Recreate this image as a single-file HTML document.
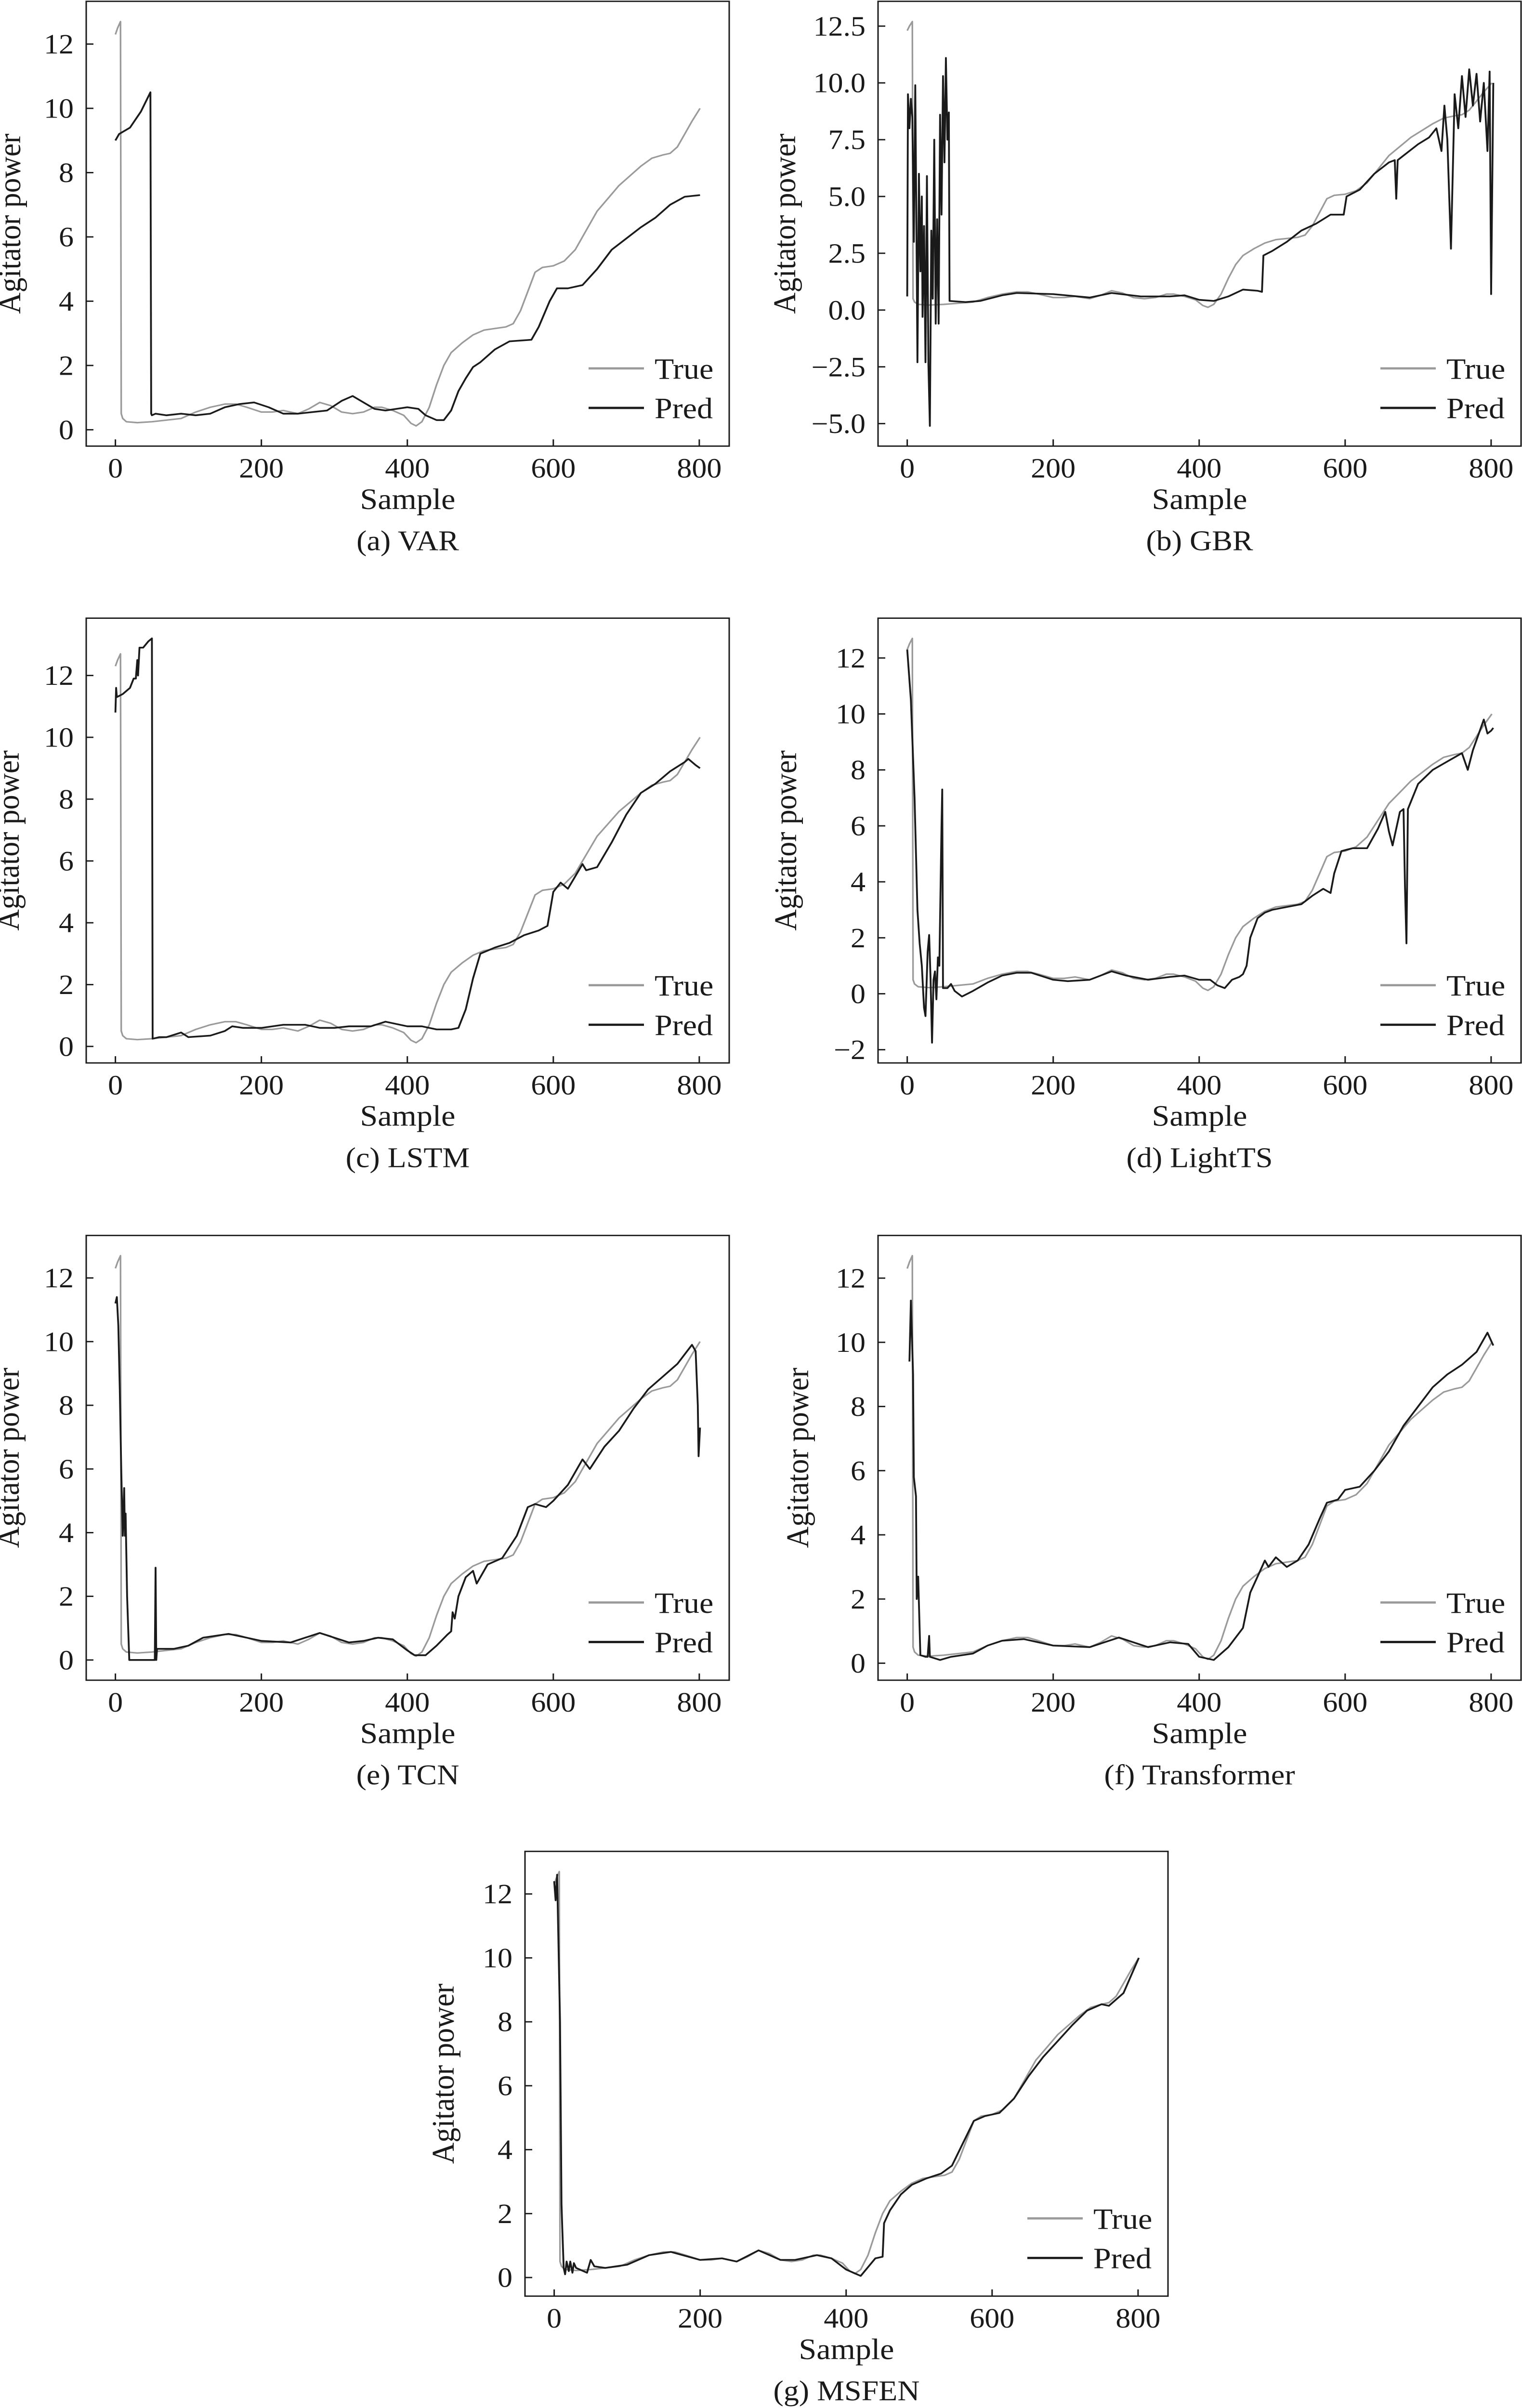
<!DOCTYPE html>
<html><head><meta charset="utf-8"><title>Agitator power predictions</title>
<style>
html,body{margin:0;padding:0;background:#fff;width:100vw;height:100vh;overflow:hidden;}
svg{display:block;position:absolute;left:0;top:0;width:100%;height:100%;font-family:"Liberation Serif","DejaVu Serif",serif;}
</style></head>
<body>
<svg id="fig" viewBox="0 0 3160 5360" preserveAspectRatio="none" xmlns="http://www.w3.org/2000/svg">
<rect x="0" y="0" width="3160" height="5360" fill="#fff"/>
</svg>
<script>
// shared true series
const trueX = [0,3,7,8,10,15,30,50,70,90,110,130,150,165,180,200,215,230,250,265,280,295,310,325,340,355,365,380,395,405,412,420,430,440,450,460,475,490,505,520,535,545,555,565,575,585,600,615,630,645,660,675,690,705,720,735,750,760,770,780,790,801];
const trueY = [12.3,12.5,12.7,0.5,0.35,0.25,0.22,0.25,0.3,0.35,0.55,0.7,0.8,0.8,0.7,0.55,0.55,0.6,0.5,0.65,0.85,0.75,0.55,0.5,0.55,0.7,0.7,0.6,0.45,0.2,0.12,0.25,0.7,1.4,2.0,2.4,2.7,2.95,3.1,3.15,3.2,3.3,3.7,4.3,4.9,5.05,5.1,5.25,5.6,6.2,6.8,7.2,7.6,7.9,8.2,8.45,8.55,8.6,8.8,9.2,9.6,10.0];

// VAR
const varX = [0,5,20,35,48,49,50,55,70,90,110,130,150,170,190,210,230,250,270,290,310,325,340,355,370,385,400,415,425,440,450,460,470,480,490,500,520,540,570,580,595,605,620,640,660,680,700,720,740,760,780,801];
const varY = [9.0,9.2,9.4,9.9,10.5,0.5,0.45,0.5,0.45,0.5,0.45,0.5,0.7,0.8,0.85,0.7,0.5,0.5,0.55,0.6,0.9,1.05,0.85,0.65,0.6,0.65,0.7,0.65,0.45,0.3,0.3,0.6,1.2,1.6,1.95,2.1,2.5,2.75,2.8,3.2,4.0,4.4,4.4,4.5,5.0,5.6,5.95,6.3,6.6,7.0,7.25,7.3];

// GBR
const gbrX = [0,1,3,5,7,9,11,13,14,16,18,20,21,23,25,27,29,31,33,35,37,39,41,43,45,47,49,51,53,55,57,58,80,100,130,150,200,250,280,320,360,380,400,420,440,460,480,486,488,500,520,540,560,580,598,602,620,640,660,668,670,672,680,700,715,725,732,736,740,745,750,755,760,765,770,775,780,785,790,795,798,800,803];
const gbrY = [0.6,9.5,8,9.3,8.5,3,9.9,2,-2.3,6,1.7,5,-0.3,3.7,-2.3,5.9,-2.4,-5.1,3.5,0.5,7.5,-0.6,4,-0.6,8.6,4.2,10.3,6.5,11.1,7.5,8.7,0.4,0.35,0.4,0.65,0.75,0.7,0.55,0.75,0.6,0.6,0.65,0.45,0.4,0.6,0.9,0.85,0.8,2.4,2.6,3.0,3.5,3.8,4.2,4.2,5.0,5.3,6.0,6.5,6.6,4.9,6.6,6.8,7.3,7.6,8.0,7.0,9.0,7.5,2.7,9.5,8.0,10.3,8.5,10.6,9.0,10.4,8.3,10.0,7.0,10.5,0.7,10.0];

// LSTM
const lstmX = [0,1,2,10,20,25,28,30,31,33,38,45,50,51,60,70,90,100,130,150,160,175,200,230,260,280,300,320,350,370,400,420,440,460,470,480,490,500,520,540,560,580,592,600,610,620,630,640,645,660,680,700,720,740,760,780,785,795,801];
const lstmY = [10.8,11.6,11.3,11.4,11.6,11.9,11.9,12.5,12.0,12.9,12.9,13.1,13.2,0.25,0.3,0.3,0.45,0.3,0.35,0.5,0.65,0.6,0.6,0.7,0.7,0.6,0.6,0.65,0.65,0.8,0.65,0.65,0.55,0.55,0.6,1.2,2.2,3.0,3.2,3.35,3.6,3.75,3.9,5.0,5.3,5.1,5.5,5.9,5.7,5.8,6.6,7.5,8.2,8.5,8.9,9.2,9.3,9.1,9.0];

// LightTS
const ltsX = [0,5,10,14,17,20,23,25,28,30,32,34,36,38,40,42,44,47,48,49,55,60,65,75,90,110,130,150,170,200,220,250,280,300,330,360,380,400,415,425,435,445,455,460,465,470,480,490,500,520,540,555,570,580,585,595,610,630,645,655,660,665,675,680,682,684,686,700,720,740,760,768,775,790,795,800,803];
const ltsY = [12.3,10.5,7.0,3.0,1.8,1.0,-0.5,-0.8,1.5,2.1,0.5,-1.75,0.5,0.8,-0.2,1.3,1.0,6.0,7.3,0.2,0.2,0.35,0.1,-0.1,0.1,0.4,0.65,0.75,0.75,0.5,0.45,0.5,0.8,0.65,0.5,0.6,0.65,0.5,0.5,0.3,0.2,0.5,0.6,0.7,1.0,2.0,2.7,2.9,3.0,3.1,3.2,3.5,3.75,3.6,4.3,5.1,5.2,5.2,5.9,6.5,5.8,5.3,6.5,6.6,3.8,1.8,6.6,7.5,8.0,8.3,8.6,8.0,8.7,9.8,9.3,9.4,9.5];

// TCN
const tcnX = [0,2,4,6,8,10,12,13,14,16,19,54,55,56,57,80,100,120,155,180,200,240,280,300,320,340,360,380,400,410,425,440,455,460,462,465,470,480,490,495,510,530,550,565,575,590,600,620,640,650,670,690,710,730,750,770,790,795,798,799,801];
const tcnY = [11.2,11.4,10.5,8.5,6,3.9,5.4,3.9,4.6,2.0,0,0,2.9,0,0.35,0.35,0.45,0.7,0.82,0.7,0.6,0.55,0.85,0.7,0.55,0.6,0.7,0.65,0.3,0.15,0.15,0.45,0.8,0.9,1.5,1.3,2.0,2.6,2.8,2.4,3.0,3.2,3.9,4.8,4.9,4.8,5.0,5.5,6.3,6.0,6.7,7.2,7.9,8.5,8.9,9.3,9.9,9.7,8.0,6.4,7.3];

// Transformer
const trfX = [3,5,8,9,12,13,15,18,25,28,30,31,45,60,90,110,130,160,200,250,290,310,330,360,385,400,420,440,460,470,480,490,495,505,520,535,550,565,575,590,600,620,640,660,680,700,720,740,760,780,795,803];
const trfY = [9.4,11.3,9.0,5.8,5.2,2.0,2.7,0.25,0.2,0.2,0.85,0.2,0.1,0.2,0.3,0.55,0.7,0.75,0.55,0.5,0.8,0.65,0.5,0.65,0.6,0.2,0.1,0.5,1.1,2.2,2.7,3.2,3.0,3.3,3.0,3.2,3.7,4.5,5.0,5.1,5.4,5.5,6.0,6.6,7.4,8.0,8.6,9.0,9.3,9.7,10.3,9.9];

// MSFEN
const msfX = [0,2,4,8,10,11,13,15,17,20,22,25,27,30,45,50,55,70,100,130,160,200,230,250,280,310,330,360,380,400,420,440,450,452,460,475,490,510,530,545,560,575,590,610,630,650,670,690,710,730,750,760,780,801];
const msfY = [12.4,11.8,12.6,8,2.3,1.6,0.3,0.1,0.5,0.2,0.5,0.15,0.45,0.3,0.15,0.55,0.35,0.3,0.4,0.7,0.8,0.55,0.6,0.5,0.85,0.55,0.55,0.7,0.6,0.25,0.05,0.6,0.65,1.7,2.1,2.6,2.9,3.1,3.25,3.5,4.2,4.9,5.05,5.15,5.6,6.3,6.9,7.4,7.9,8.35,8.55,8.5,8.9,10.0];

const ticksInt = [0,2,4,6,8,10,12];
const ticksGBR = [-5,-2.5,0,2.5,5,7.5,10,12.5];
const ticksLTS = [-2,0,2,4,6,8,10,12];
const xTicks = [0,200,400,600,800];
const captions = ["(a) VAR","(b) GBR","(c) LSTM","(d) LightTS","(e) TCN","(f) Transformer","(g) MSFEN"];

const NS = "http://www.w3.org/2000/svg";
const fig = document.getElementById('fig');
const W = 1335, H = 990;
const XMIN = -40, XMAX = 841;

function el(tag, attrs, parent){
  const e = document.createElementNS(NS, tag);
  for (const k in attrs) e.setAttribute(k, attrs[k]);
  parent.appendChild(e);
  return e;
}
function fmt(v, dec){ const s = dec ? v.toFixed(1) : String(v); return s.replace('-', '\u2212'); }

function panel(idx, L, T, px, py, ticks, dec, ylabOff){
  const g = el('g', {}, fig);
  
  
  const all = trueY.concat(py);
  const mn = Math.min.apply(null, all), mx = Math.max.apply(null, all);
  const m = (mx - mn) * 0.05;
  const ymin = mn - m, ymax = mx + m;
  const sx = v => L + (v - XMIN) / (XMAX - XMIN) * W;
  const sy = v => T + (ymax - v) / (ymax - ymin) * H;

  const mk = (xs, ys) => xs.map((x,i) => (i ? 'L' : 'M') + sx(x).toFixed(1) + ' ' + sy(ys[i]).toFixed(1)).join(' ');
  const tl = el('path', {d: mk(trueX, trueY), fill:'none', stroke:'#9a9a9a', 'stroke-width':3.4, 'stroke-linejoin':'round'}, g);
  
  
  const pl = el('path', {d: mk(px, py), fill:'none', stroke:'#1a1a1a', 'stroke-width':3.8, 'stroke-linejoin':'round'}, g);
  
  

  const fr = el('rect', {x:L, y:T, width:W, height:H, fill:'none', stroke:'#1a1a1a', 'stroke-width':3}, g);
  
  

  ticks.forEach(t => {
    const y = sy(t);
    const tk = el('line', {x1:L, x2:L+15, y1:y, y2:y, stroke:'#1a1a1a', 'stroke-width':3}, g);
    
    
    const tx = el('text', {x:L-26, y:y+21, 'font-size':62, 'text-anchor':'end', fill:'#1a1a1a'}, g);
    tx.textContent = fmt(t, dec);
    
    
  });
  xTicks.forEach(t => {
    const x = sx(t);
    const tk = el('line', {x1:x, x2:x, y1:T+H, y2:T+H-15, stroke:'#1a1a1a', 'stroke-width':3}, g);
    
    
    const tx = el('text', {x:x, y:T+H+70, 'font-size':62, 'text-anchor':'middle', fill:'#1a1a1a'}, g);
    tx.textContent = String(t);
    
    
  });
  const xt = el('text', {x:L+W/2, y:T+H+140, 'font-size':66, 'text-anchor':'middle', fill:'#1a1a1a'}, g);
  xt.textContent = 'Sample';
  
  
  const yx = L + ylabOff, yy = T + H/2;
  const yt = el('text', {x:yx, y:yy, 'font-size':66, 'text-anchor':'middle', fill:'#1a1a1a', transform:'rotate(-90 '+yx+' '+yy+')'}, g);
  yt.textContent = 'Agitator power';
  
  
  const cp = el('text', {x:L+W/2, y:T+H+232, 'font-size':64, 'text-anchor':'middle', fill:'#1a1a1a'}, g);
  cp.textContent = captions[idx];
  
  
  const lg = el('g', {}, g);
  
  
  [['True','#9a9a9a',817],['Pred','#1a1a1a',905]].forEach(e => {
    const ln = el('line', {x1:L+1043, x2:L+1158, y1:T+e[2], y2:T+e[2], stroke:e[1], 'stroke-width':5}, lg);
    
    
    const tx = el('text', {x:L+1180, y:T+e[2]+23, 'font-size':66, fill:'#1a1a1a'}, lg);
    tx.textContent = e[0];
    
    
  });
}

const C1 = 179, C2 = 1823;
const R = [3, 1376, 2750, 4121];
panel(0, C1, R[0], varX, varY, ticksInt, false, -137);
panel(1, C2, R[0], gbrX, gbrY, ticksGBR, true, -172);
panel(2, C1, R[1], lstmX, lstmY, ticksInt, false, -140);
panel(3, C2, R[1], ltsX, ltsY, ticksLTS, false, -170);
panel(4, C1, R[2], tcnX, tcnY, ticksInt, false, -140);
panel(5, C2, R[2], trfX, trfY, ticksInt, false, -145);
panel(6, 1090, R[3], msfX, msfY, ticksInt, false, -148);
</script>
</body></html>
